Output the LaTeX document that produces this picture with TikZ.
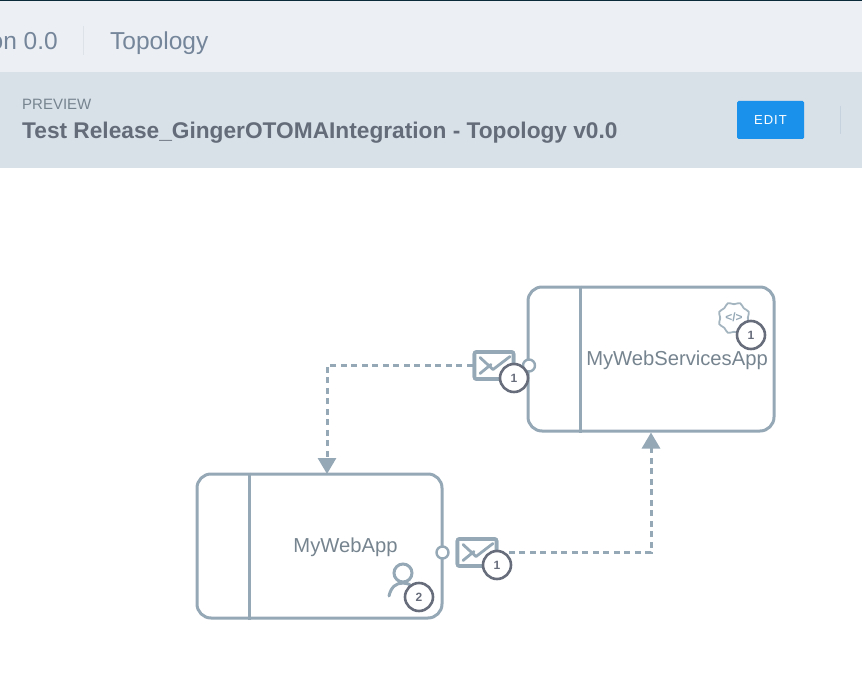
\documentclass[tikz,border=0pt]{standalone}
\usepackage{fontspec}
\usepackage{tikz}
\usetikzlibrary{arrows.meta,calc}
\setmainfont{Liberation Sans}
\definecolor{topbar}{HTML}{ECF0F5}
\definecolor{headbar}{HTML}{D8E0E8}
\definecolor{edge}{HTML}{95A8B5}
\definecolor{badgeline}{HTML}{686D7C}
\definecolor{labeltext}{HTML}{76848F}
\definecolor{titletext}{HTML}{646C7A}
\definecolor{tabtext}{HTML}{75859A}
\definecolor{editblue}{HTML}{1A91EB}
\definecolor{rulelight}{HTML}{DDE2E9}
\definecolor{ruledark}{HTML}{C6D2DD}
\definecolor{pagetop}{HTML}{0A2A3A}
\begin{document}
\begin{tikzpicture}[x=1pt,y=-1pt,
    appbox/.style={draw=edge,line width=3pt,rounded corners=14pt,inner sep=0pt},
    envelope/.style={draw=edge,line width=3.6pt,rounded corners=2pt,fill=white,minimum width=39pt,minimum height=27pt,inner sep=0pt},
    port/.style={draw=edge,line width=2.4pt,fill=white,circle,minimum size=12pt,inner sep=0pt},
    badge/.style={draw=badgeline,line width=2.6pt,fill=white,circle,minimum size=28pt,inner sep=0pt,text=badgeline,font=\fontsize{12}{12}\selectfont\bfseries},
    flow/.style={draw=edge,line width=3pt,dash pattern=on 6pt off 4.5pt},
    flowtip/.style={-{Triangle[length=16pt,width=18pt,color=edge]}},
    applabel/.style={text=labeltext,font=\fontsize{20.2}{21}\selectfont},
    glyph/.style={draw=edge,line width=2.8pt,line cap=round,line join=round}]
    \useasboundingbox (0,0) rectangle (862,698);
    % page header
    \fill[topbar] (0,0) rectangle (862,72);
    \fill[headbar] (0,72) rectangle (862,168);
    \fill[pagetop] (0,0) rectangle (862,1.5);
    \draw[rulelight,line width=1pt] (83.5,26) -- (83.5,55);
    \draw[ruledark,line width=1pt] (840.5,106) -- (840.5,134);
    \node[anchor=base east,inner sep=0pt,text=tabtext,font=\fontsize{24.5}{25}\selectfont] (version) at (58,50) {on 0.0};
    \node[anchor=base west,inner sep=0pt,text=tabtext,font=\fontsize{24.5}{25}\selectfont] (topology) at (110,50) {Topology};
    \node[anchor=base west,inner sep=0pt,text=labeltext,font=\fontsize{15}{16}\selectfont] (preview) at (22,110) {PREVIEW};
    \node[anchor=base west,inner sep=0pt,text=titletext,font=\fontsize{22.7}{23}\selectfont\bfseries] (title) at (22,139) {Test Release\_GingerOTOMAIntegration - Topology v0.0};
    \node[fill=editblue,rounded corners=1.5pt,minimum width=67pt,minimum height=38pt,inner sep=0pt,text=white,font=\fontsize{13}{13}\selectfont] (edit) at (770.5,120) {E\kern1pt D\kern1pt I\kern1pt T};
    % the two applications
    \node[appbox,minimum width=246pt,minimum height=144pt] (services) at (651,359) {};
    \node[appbox,minimum width=245pt,minimum height=144pt] (webapp) at (319.5,546) {};
    \draw[edge,line width=3pt] (services.north west -| 580.5,0) -- (services.south west -| 580.5,0);
    \draw[edge,line width=3pt] (webapp.north west -| 249,0) -- (webapp.south west -| 249,0);
    \node[applabel] (serviceslabel) at (677,360) {MyWebServicesApp};
    \node[applabel] (webapplabel) at (345.5,547) {MyWebApp};
    \coordinate (webappin) at (327,474);
    % envelopes go first so that the flows start behind them
    \node[envelope] (msgone) at (494,365.5) {};
    \node[envelope] (msgtwo) at (477,552.5) {};
    \draw[flow,flowtip] (msgone.west) -| (webappin);
    \draw[flow,flowtip] (msgtwo.east) -| (services.south);
    \node[envelope] (msgonetop) at (msgone) {};
    \node[envelope] (msgtwotop) at (msgtwo) {};
    \foreach \m in {msgonetop,msgtwotop} {
        \draw[glyph] ($(\m.center)+(-14,-8)$) -- ($(\m.center)+(-1,4)$) -- ($(\m.center)+(16,-9)$);
        \draw[glyph] ($(\m.center)+(-14,8)$) -- ($(\m.center)+(-3,-1)$);
    }
    \node[port] (portone) at (529,365.5) {};
    \node[port] (porttwo) at (442.5,552.5) {};
    % user and gear marks
    \node[draw=edge,line width=3pt,circle,minimum size=18pt,inner sep=0pt] (userhead) at (403,573) {};
    \draw[edge,line width=3pt,line cap=round] (389,596) .. controls (391,587) and (396,583) .. (403,583) .. controls (410,583) and (415,587) .. (417,596);
    \draw[edge!85!white,line width=1.8pt,line join=round,rounded corners=1.5pt] (734,318) ++(8:14)
        \foreach \a in {45,90,...,360} { -- ($(734,318)+(\a-37:14)$) -- ($(734,318)+(\a-28:16)$) -- ($(734,318)+(\a-17:16)$) -- ($(734,318)+(\a-8:14)$) } -- cycle;
    \node[text=edge,font=\fontsize{12}{12}\selectfont\bfseries] (gearcode) at (734,317) {</>};
    % counters
    \node[badge] (badgeone) at (514,378) {1};
    \node[badge] (badgetwo) at (497,565) {1};
    \node[badge] (badgegear) at (751,335) {1};
    \node[badge] (badgeuser) at (419,597) {2};
\end{tikzpicture}
\end{document}
